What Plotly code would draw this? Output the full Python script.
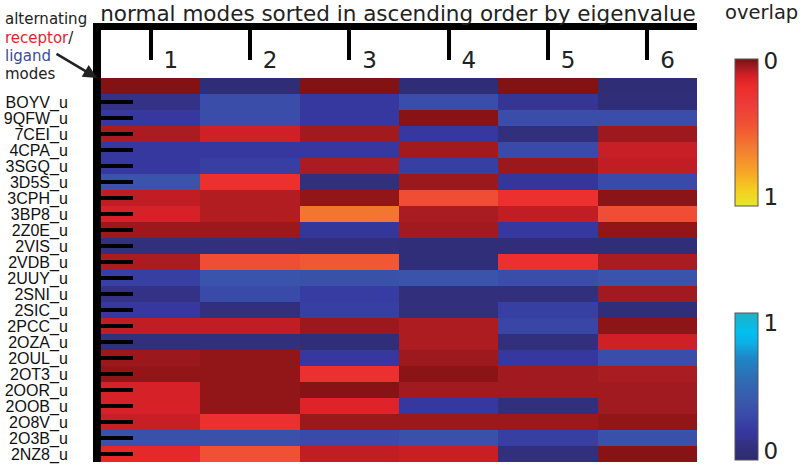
import plotly.graph_objects as go

# mode numbers (columns) and complexes (rows); first row = receptor/ligand legend row
modes = ['1', '2', '3', '4', '5', '6']
complexes = ['', 'BOYV_u', '9QFW_u', '7CEI_u', '4CPA_u', '3SGQ_u', '3D5S_u', '3CPH_u',
             '3BP8_u', '2Z0E_u', '2VIS_u', '2VDB_u', '2UUY_u', '2SNI_u', '2SIC_u',
             '2PCC_u', '2OZA_u', '2OUL_u', '2OT3_u', '2OOR_u', '2OOB_u', '2O8V_u',
             '2O3B_u', '2NZ8_u']

# R = receptor mode (red scale), L = ligand mode (blue scale)
partner = ['RLRLRL',
           'LLLLLL', 'LLLRLL', 'RRRLLR', 'LLLRLR', 'LLRLRR', 'LRLRLL', 'RRRRRR',
           'RRRRRR', 'RRLRLR', 'LLLLLL', 'RRRLRR', 'LLLLLL', 'LLLLLR', 'LLLLLL',
           'RRRRLR', 'LLLRLR', 'RRLRLL', 'RRRRRR', 'RRRRRR', 'RRRLLR', 'RRRRRR',
           'LLLLLL', 'RRRRLR']

# overlap values
overlap = [
    [0.01, 0.04, 0.01, 0.04, 0.01, 0.04],
    [0.12, 0.33, 0.20, 0.33, 0.15, 0.05],
    [0.20, 0.33, 0.20, 0.015, 0.33, 0.33],
    [0.065, 0.11, 0.055, 0.20, 0.09, 0.05],
    [0.20, 0.20, 0.20, 0.055, 0.30, 0.10],
    [0.20, 0.24, 0.065, 0.24, 0.045, 0.09],
    [0.37, 0.22, 0.08, 0.045, 0.17, 0.30],
    [0.09, 0.075, 0.03, 0.42, 0.22, 0.02],
    [0.12, 0.075, 0.58, 0.065, 0.09, 0.42],
    [0.045, 0.045, 0.17, 0.055, 0.20, 0.03],
    [0.08, 0.08, 0.08, 0.05, 0.05, 0.05],
    [0.065, 0.42, 0.47, 0.05, 0.22, 0.065],
    [0.24, 0.37, 0.35, 0.37, 0.33, 0.37],
    [0.12, 0.30, 0.22, 0.09, 0.09, 0.055],
    [0.20, 0.09, 0.24, 0.09, 0.24, 0.05],
    [0.09, 0.09, 0.045, 0.07, 0.28, 0.025],
    [0.09, 0.09, 0.05, 0.07, 0.09, 0.11],
    [0.045, 0.03, 0.20, 0.05, 0.20, 0.33],
    [0.03, 0.03, 0.22, 0.02, 0.055, 0.065],
    [0.12, 0.03, 0.015, 0.055, 0.055, 0.055],
    [0.12, 0.03, 0.14, 0.20, 0.09, 0.055],
    [0.10, 0.22, 0.045, 0.045, 0.045, 0.03],
    [0.35, 0.35, 0.30, 0.35, 0.24, 0.35],
    [0.17, 0.44, 0.09, 0.10, 0.09, 0.015],
]

# colour stops by overlap value
red_stops = [(0.0, '#7c1014'), (0.03, '#921618'), (0.06, '#a41b20'), (0.09, '#c01e24'),
             (0.13, '#dc2228'), (0.2, '#ec2e2c'), (0.3, '#ec3a3a'), (0.45, '#f05232'),
             (0.6, '#f27a30'), (0.75, '#f7a028'), (0.9, '#f5d020'), (1.0, '#e4e82a')]
blue_stops = [(0.0, '#2c2a70'), (0.05, '#302e78'), (0.1, '#33307e'), (0.15, '#353594'),
              (0.2, '#3638a0'), (0.3, '#3a4aa8'), (0.4, '#3a58ac'), (0.55, '#2f6cb4'),
              (0.7, '#1e88c8'), (0.8, '#0cb0e8'), (0.87, '#00c0f0'), (1.0, '#22b0c4')]

# red bar has 0 on top -> plot -overlap on [-1, 0]
red_scale = [[1 - o, c] for o, c in reversed(red_stops)]
blue_scale = [[o, c] for o, c in blue_stops]

xs = list(range(len(modes)))
ys = list(range(len(complexes)))
z_red = [[-v if p == 'R' else None for v, p in zip(row, prow)] for row, prow in zip(overlap, partner)]
z_blue = [[v if p == 'L' else None for v, p in zip(row, prow)] for row, prow in zip(overlap, partner)]

W, H = 800, 467
L, R, T, B = 101, 103, 30, 5
pw, ph = W - L - R, H - T - B


def px(x):
    return (x - L) / pw


def py(y):
    return (H - B - y) / ph


cb_common = dict(x=px(735), xanchor='left', yanchor='top', len=147 / ph, lenmode='fraction',
                 thickness=23, outlinewidth=1, outlinecolor='#555', ticks='', xpad=0, ypad=0,
                 tickfont=dict(size=23, family='DejaVu Sans', color='#222'))

fig = go.Figure()
# end labels sit a little inside the bar ends, as in the original
fig.add_trace(go.Heatmap(
    x=xs, y=ys, z=z_red, zmin=-1, zmax=0, colorscale=red_scale,
    colorbar=dict(cb_common, y=py(59), tickvals=[-0.94, -0.015], ticktext=['1', '0']),
    hoverongaps=False,
))
fig.add_trace(go.Heatmap(
    x=xs, y=ys, z=z_blue, zmin=0, zmax=1, colorscale=blue_scale,
    colorbar=dict(cb_common, y=py(313), tickvals=[0.06, 0.93], ticktext=['0', '1']),
    hoverongaps=False,
))

annotations = [
    dict(text='overlap', x=px(761), y=py(13), xref='paper', yref='paper', showarrow=False,
         font=dict(size=19.5, family='DejaVu Sans', color='#222'), xanchor='center', yanchor='middle'),
    dict(text='alternating', x=px(3), y=py(19), xref='paper', yref='paper', showarrow=False,
         font=dict(size=15, family='DejaVu Sans', color='#222'), xanchor='left', yanchor='middle'),
    dict(text="<span style='color:#e3262c'>receptor</span>/", x=px(3), y=py(38), xref='paper',
         yref='paper', showarrow=False, font=dict(size=15, family='DejaVu Sans', color='#222'),
         xanchor='left', yanchor='middle'),
    dict(text='ligand', x=px(3), y=py(56), xref='paper', yref='paper', showarrow=False,
         font=dict(size=15, family='DejaVu Sans', color='#3a4aa0'), xanchor='left', yanchor='middle'),
    dict(text='modes', x=px(3), y=py(74), xref='paper', yref='paper', showarrow=False,
         font=dict(size=15, family='DejaVu Sans', color='#222'), xanchor='left', yanchor='middle'),
    dict(text='', x=px(97), y=py(78), xref='paper', yref='paper', showarrow=True,
         ax=-42, ay=-25, arrowhead=2, arrowsize=1.1, arrowwidth=2.5, arrowcolor='#222', standoff=0),
]

fig.update_layout(
    width=W, height=H,
    margin=dict(l=L, r=R, t=T, b=B, autoexpand=False),
    paper_bgcolor='white', plot_bgcolor='white',
    title=dict(text='normal modes sorted in ascending order by eigenvalue',
               x=px(398), xref='paper', xanchor='center',
               y=1 - 13 / H, yref='container', yanchor='middle',
               font=dict(size=21.5, family='DejaVu Sans', color='#222'),
               automargin=False),
    xaxis=dict(side='top', range=[-0.5, len(modes) - 0.5], showline=True, linewidth=7,
               linecolor='black', ticks='inside', ticklen=30, tickwidth=4, tickcolor='black',
               tickvals=xs, ticktext=[' ' + m for m in modes], ticklabelposition='inside right',
               ticklabelstandoff=21, tickfont=dict(size=23, family='DejaVu Sans', color='#222'),
               showgrid=False, zeroline=False, automargin=False),
    yaxis=dict(range=[len(complexes) - 0.5, -3.5], showline=True, linewidth=8,
               linecolor='black', ticks='inside', ticklen=32, tickwidth=4, tickcolor='black',
               tickvals=ys[1:], ticktext=complexes[1:], ticklabelstandoff=22,
               tickfont=dict(size=16, family='Liberation Sans', color='#111'),
               showgrid=False, zeroline=False, automargin=False),
    annotations=annotations,
)

# drop the default 8px page margin so the figure sits at the window's corner
fig.write_html('out.html', config={'displayModeBar': False},
               post_script="document.body.style.margin='0';")
